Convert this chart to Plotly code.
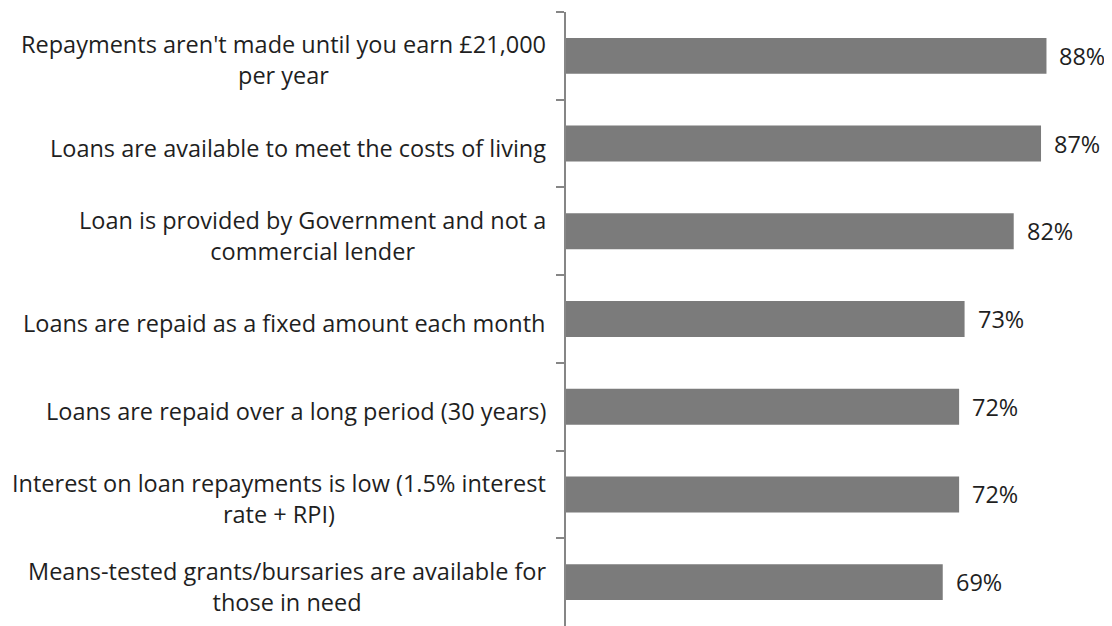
import plotly.graph_objects as go

categories = [
    "Repayments aren't made until you earn £21,000<br>per year",
    "Loans are available to meet the costs of living",
    "Loan is provided by Government and not a<br>commercial lender",
    "Loans are repaid as a fixed amount each month",
    "Loans are repaid over a long period (30 years)",
    "Interest on loan repayments is low (1.5% interest<br>rate + RPI)",
    "Means-tested grants/bursaries are available for<br>those in need",
]
values = [88, 87, 82, 73, 72, 72, 69]
value_labels = ["88%", "87%", "82%", "73%", "72%", "72%", "69%"]

keys = ["c%d" % i for i in range(len(categories))]

font_family = "'Open Sans', sans-serif"
text_color = "#1f1f1f"

fig = go.Figure()
fig.add_trace(go.Bar(
    x=values,
    y=keys,
    orientation="h",
    marker=dict(color="#7b7b7b", line=dict(width=0)),
    hoverinfo="skip",
))

annotations = []
for k, cat, v, lab in zip(keys, categories, values, value_labels):
    annotations.append(dict(
        x=0, xref="paper", y=k, yref="y",
        text=cat, showarrow=False, xanchor="right", yanchor="middle",
        align="center", xshift=-18, yshift=-4,
        font=dict(family=font_family, size=23.5, color=text_color),
    ))
    annotations.append(dict(
        x=v, xref="x", y=k, yref="y",
        text=lab, showarrow=False, xanchor="left", yanchor="middle",
        xshift=11,
        font=dict(family=font_family, size=23.5, color=text_color),
    ))

fig.update_layout(
    width=1104, height=618,
    margin=dict(l=558, r=0, t=4, b=0),
    paper_bgcolor="white", plot_bgcolor="white",
    showlegend=False,
    bargap=0.59,
    annotations=annotations,
    xaxis=dict(range=[0, 100], visible=False, showgrid=False, zeroline=False),
    yaxis=dict(
        type="category", categoryorder="array", categoryarray=keys,
        autorange="reversed", showgrid=False, zeroline=False,
        showline=True, linecolor="#868686", linewidth=1.5,
        ticks="outside", ticklen=8, tickcolor="#868686", tickwidth=1.5,
        tickson="boundaries", showticklabels=False,
    ),
)

fig.write_html("out.html")
